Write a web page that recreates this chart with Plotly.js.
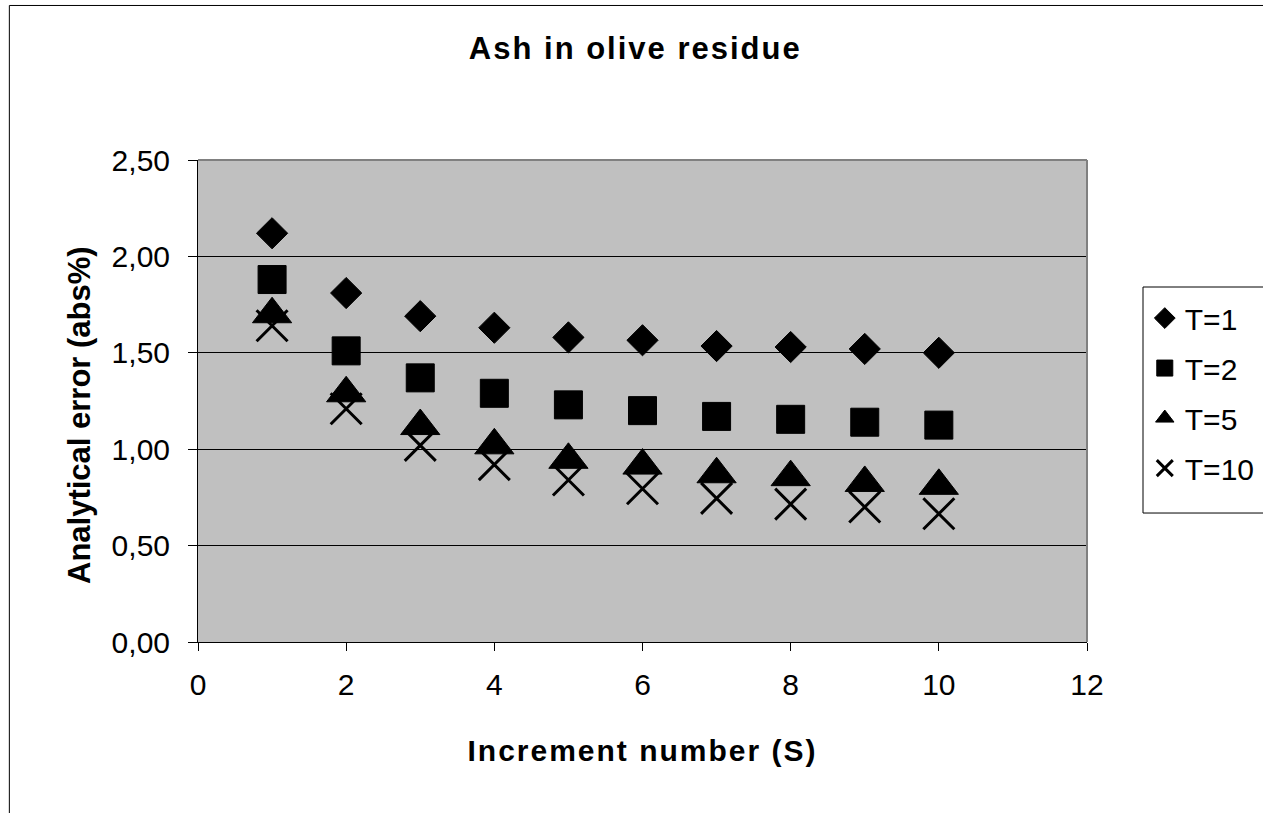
<!DOCTYPE html>
<html>
<head>
<meta charset="utf-8">
<script src="https://cdn.plot.ly/plotly-3.0.1.min.js"></script>
<style>
  body { margin: 0; padding: 0; background: #ffffff; }
  #chart { width: 1263px; height: 813px; }
  .gtitle { letter-spacing: 2px; }
  .xtitle { letter-spacing: 2px; }
</style>
</head>
<body>
<div id="chart"></div>
<script>
// Data
var increments = [1, 2, 3, 4, 5, 6, 7, 8, 9, 10];
var seriesNames = ["T=1", "T=2", "T=5", "T=10"];
var errT1  = [2.12, 1.81, 1.69, 1.63, 1.58, 1.565, 1.535, 1.53, 1.52, 1.50];
var errT2  = [1.88, 1.51, 1.37, 1.29, 1.23, 1.20, 1.17, 1.155, 1.14, 1.125];
var errT5  = [1.70, 1.29, 1.12, 1.02, 0.945, 0.915, 0.87, 0.855, 0.825, 0.81];
var errT10 = [1.64, 1.21, 1.02, 0.92, 0.84, 0.795, 0.745, 0.715, 0.70, 0.665];
var xTicks = [0, 2, 4, 6, 8, 10, 12];
var yTicks = [0, 0.5, 1, 1.5, 2, 2.5];

var FONT = "Arial, 'Liberation Sans', sans-serif";

function tr(name, y, symbol, size, lineW, grp) {
  return {
    type: "scatter", mode: "markers", name: name, x: increments, y: y,
    legendgroup: grp,
    marker: { symbol: symbol, size: size, color: "#000000",
              line: { color: "#000000", width: lineW } },
    hoverinfo: "x+y+name"
  };
}

var data = [
  tr(seriesNames[0], errT1, "diamond", 24, 1, "g1"),
  tr(seriesNames[1], errT2, "square", 28, 1, "g2"),
  tr(seriesNames[2], errT5, "triangle-up", 34, 1, "g3"),
  tr(seriesNames[3], errT10, "x-thin-open", 31, 3, "g4")
];

var layout = {
  width: 1263, height: 813,
  margin: { l: 198, r: 176, t: 160, b: 171, pad: 0, autoexpand: false },
  paper_bgcolor: "#ffffff",
  plot_bgcolor: "#c0c0c0",
  separators: ", ",
  font: { family: FONT, size: 30, color: "#000000" },
  title: {
    text: "<b>Ash in olive residue</b>",
    font: { family: FONT, size: 31, color: "#000000" },
    x: 0.503, xref: "container", xanchor: "center",
    y: 0.941, yref: "container", yanchor: "middle"
  },
  xaxis: {
    range: [0, 12], tickvals: xTicks, ticktext: xTicks.map(String),
    showgrid: false, zeroline: false,
    showline: true, linecolor: "#000000", linewidth: 1,
    ticks: "outside", ticklen: 8, tickcolor: "#000000", tickwidth: 1,
    ticklabelstandoff: 8,
    tickfont: { family: FONT, size: 30, color: "#000000" },
    title: { text: "<b>Increment number (S)</b>", font: { family: FONT, size: 30, color: "#000000" }, standoff: 39 },
    automargin: false, fixedrange: true
  },
  yaxis: {
    range: [0, 2.5], tickvals: yTicks, tickformat: ".2f",
    showgrid: true, gridcolor: "#000000", gridwidth: 1, zeroline: false,
    showline: true, linecolor: "#000000", linewidth: 1,
    ticks: "outside", ticklen: 9, tickcolor: "#000000", tickwidth: 1,
    ticklabelstandoff: 12,
    tickfont: { family: FONT, size: 30, color: "#000000" },
    automargin: false, fixedrange: true
  },
  annotations: [
    { text: "<b>Analytical error (abs%)</b>", textangle: -90,
      xref: "paper", yref: "paper", x: -0.1327, y: 0.471,
      xanchor: "center", yanchor: "middle", showarrow: false,
      font: { family: FONT, size: 31, color: "#000000" } }
  ],
  showlegend: true,
  legend: {
    x: 1.065, xref: "paper", xanchor: "left",
    y: 0.726, yref: "paper", yanchor: "top",
    bgcolor: "rgba(0,0,0,0)", borderwidth: 0,
    font: { family: FONT, size: 30, color: "#000000" },
    traceorder: "grouped", tracegroupgap: 8,
    itemclick: false, itemdoubleclick: false
  },
  shapes: [
    // plot area border (top & right), grey as in the reference
    { type: "line", xref: "x domain", yref: "y domain", x0: 0, x1: 1, y0: 1, y1: 1,
      line: { color: "#808080", width: 2 }, layer: "above" },
    { type: "line", xref: "x domain", yref: "y domain", x0: 1, x1: 1, y0: 0, y1: 1,
      line: { color: "#808080", width: 2 }, layer: "above" },
    // legend box (extends past the right edge)
    { type: "rect", xref: "paper", yref: "paper",
      x0: 1.0630, x1: 1.25, y0: 0.2676, y1: 0.7365,
      line: { color: "#000000", width: 1 }, fillcolor: "#ffffff", layer: "below" },
    // chart area border (extends past the right and bottom edges)
    { type: "rect", xref: "paper", yref: "paper",
      x0: -0.2122, x1: 1.3, y0: -0.5, y1: 1.3206,
      line: { color: "#000000", width: 1 }, fillcolor: "rgba(0,0,0,0)", layer: "below" }
  ]
};

Plotly.newPlot("chart", data, layout, { staticPlot: true, displayModeBar: false });
</script>
</body>
</html>
